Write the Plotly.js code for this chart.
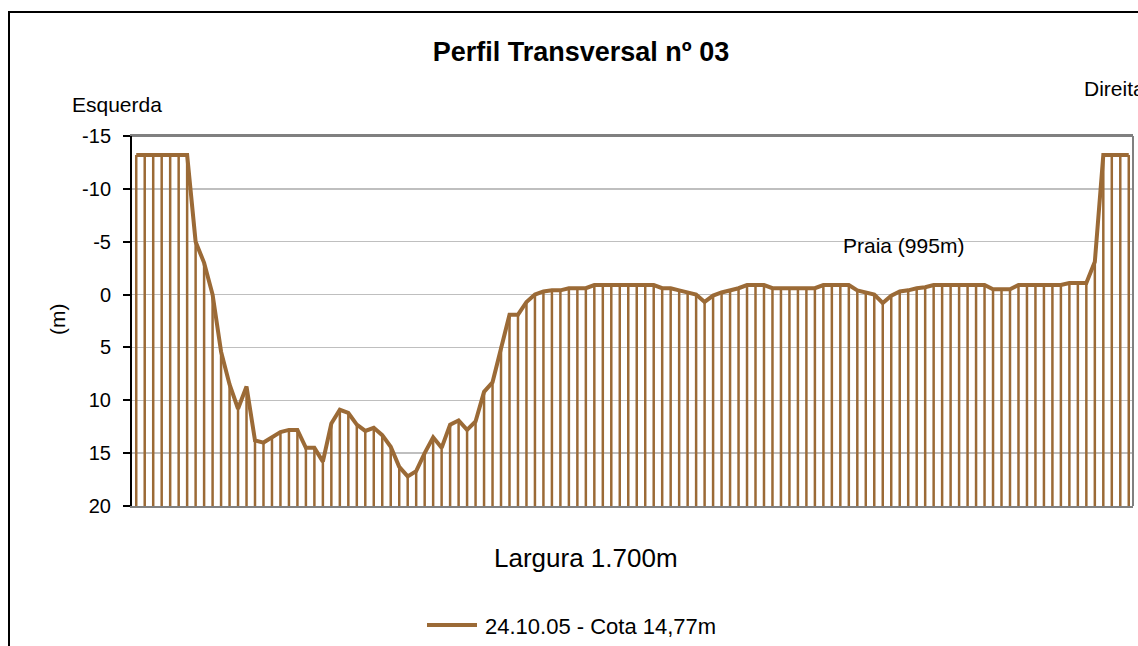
<!DOCTYPE html>
<html>
<head>
<meta charset="utf-8">
<script src="https://cdn.plot.ly/plotly-3.0.1.min.js"></script>
<style>
  html, body { margin: 0; padding: 0; background: #ffffff; }
  #chart { width: 1138px; height: 646px; }
</style>
</head>
<body>
<div id="chart"></div>
<script>
// Depth profile values (m) (negative = above reference level)
const depth = [
  -13.2, -13.2, -13.2, -13.2, -13.2, -13.2, -13.2, -5.0, -3.0, 0.0,
  5.4, 8.5, 10.8, 8.7, 13.8, 14.0, 13.5, 13.0, 12.8, 12.8,
  14.5, 14.5, 15.8, 12.2, 10.9, 11.2, 12.3, 12.9, 12.6, 13.3,
  14.4, 16.3, 17.2, 16.7, 15.0, 13.5, 14.5, 12.3, 11.9, 12.8,
  12.0, 9.2, 8.3, 4.9, 1.9, 1.9, 0.7, 0.0, -0.3, -0.4,
  -0.4, -0.6, -0.6, -0.6, -0.9, -0.9, -0.9, -0.9, -0.9, -0.9,
  -0.9, -0.9, -0.6, -0.6, -0.4, -0.2, 0.0, 0.7, 0.1, -0.2,
  -0.4, -0.6, -0.9, -0.9, -0.9, -0.6, -0.6, -0.6, -0.6, -0.6,
  -0.6, -0.9, -0.9, -0.9, -0.9, -0.4, -0.2, 0.0, 0.8, 0.1,
  -0.3, -0.4, -0.6, -0.7, -0.9, -0.9, -0.9, -0.9, -0.9, -0.9,
  -0.9, -0.5, -0.5, -0.5, -0.9, -0.9, -0.9, -0.9, -0.9, -0.9,
  -1.1, -1.1, -1.1, -3.1, -13.2, -13.2, -13.2, -13.2
];
const stations = depth.map((_, i) => i);
const axisBottom = 20;
const yTickValues = [-15, -10, -5, 0, 5, 10, 15, 20];
const yTickLabels = ['-15', '-10', '-5', '0', '5', '10', '15', '20'];
const seriesName = '24.10.05 - Cota 14,77m';
const chartTitle = 'Perfil Transversal nº 03';
const xTitle = 'Largura 1.700m';
const yTitle = '(m)';
const labelLeft = 'Esquerda';
const labelRight = 'Direita';
const labelBeach = 'Praia (995m)';

const brown = '#9B6A36';
const FONT = 'Liberation Sans, Arial, sans-serif';

const trace = {
  type: 'scatter',
  mode: 'lines',
  x: stations,
  y: depth,
  name: seriesName,
  line: { color: brown, width: 4 },
  error_y: {
    type: 'data',
    symmetric: false,
    array: depth.map(v => axisBottom - v),
    arrayminus: depth.map(() => 0),
    width: 0,
    thickness: 2.5,
    color: brown
  },
  hoverinfo: 'x+y',
  showlegend: false
};

const layout = {
  width: 1138,
  height: 646,
  margin: { l: 132, r: 5, t: 136, b: 140 },
  paper_bgcolor: '#ffffff',
  plot_bgcolor: '#ffffff',
  font: { family: FONT, color: '#000000', size: 20 },
  title: {
    text: '<b>' + chartTitle + '</b>',
    font: { family: FONT, size: 27, color: '#000000' },
    xref: 'container', x: 581 / 1138, xanchor: 'center',
    yref: 'container', y: 1 - 52 / 646, yanchor: 'middle'
  },
  xaxis: {
    range: [-0.5, depth.length - 0.5],
    showticklabels: false,
    ticks: '',
    showgrid: false,
    zeroline: false,
    showline: true,
    linecolor: '#808080',
    linewidth: 2,
    mirror: true,
    fixedrange: true
  },
  yaxis: {
    range: [20, -15],
    tickvals: yTickValues,
    ticktext: yTickLabels,
    ticks: 'outside',
    ticklen: 7,
    tickwidth: 2,
    tickcolor: '#000000',
    ticklabelstandoff: 8,
    tickfont: { family: FONT, size: 20, color: '#000000' },
    showgrid: true,
    gridcolor: '#BFBFBF',
    gridwidth: 1.5,
    zeroline: false,
    showline: true,
    linecolor: '#000000',
    linewidth: 2,
    fixedrange: true
  },
  shapes: [
    { type: 'line', xref: 'paper', yref: 'paper', x0: 0, x1: 1, y0: 1, y1: 1,
      line: { color: '#808080', width: 2 } },
    { type: 'line', xref: 'paper', yref: 'paper', x0: 1, x1: 1, y0: 0, y1: 1,
      line: { color: '#808080', width: 2 } },
    { type: 'line', xref: 'paper', yref: 'paper',
      x0: (427 - 132) / 1001, x1: (477 - 132) / 1001,
      y0: (506 - 625) / 370, y1: (506 - 625) / 370,
      line: { color: brown, width: 4 } },
    { type: 'rect', xref: 'paper', yref: 'paper',
      x0: (9 - 132) / 1001, x1: (1150 - 132) / 1001,
      y0: (506 - 660) / 370, y1: (506 - 12) / 370,
      line: { color: '#000000', width: 2 }, fillcolor: 'rgba(0,0,0,0)' }
  ],
  annotations: [
    { text: labelLeft, xref: 'paper', yref: 'paper',
      x: (70 - 132) / 1001, xanchor: 'left', y: (506 - 104) / 370, yanchor: 'middle',
      showarrow: false, font: { family: FONT, size: 21 } },
    { text: labelRight, xref: 'paper', yref: 'paper',
      x: (1082 - 132) / 1001, xanchor: 'left', y: (506 - 88) / 370, yanchor: 'middle',
      showarrow: false, font: { family: FONT, size: 21 } },
    { text: labelBeach, xref: 'paper', yref: 'paper',
      x: (841 - 132) / 1001, xanchor: 'left', y: (506 - 245) / 370, yanchor: 'middle',
      showarrow: false, font: { family: FONT, size: 21 } },
    { text: xTitle, xref: 'paper', yref: 'paper',
      x: (586 - 132) / 1001, xanchor: 'center', y: (506 - 558) / 370, yanchor: 'middle',
      showarrow: false, font: { family: FONT, size: 26 } },
    { text: yTitle, xref: 'paper', yref: 'paper', textangle: -90,
      x: (57 - 132) / 1001, xanchor: 'center', y: (506 - 320) / 370, yanchor: 'middle',
      showarrow: false, font: { family: FONT, size: 21 } },
    { text: seriesName, xref: 'paper', yref: 'paper',
      x: (483 - 132) / 1001, xanchor: 'left', y: (506 - 626) / 370, yanchor: 'middle',
      showarrow: false, font: { family: FONT, size: 22 } }
  ]
};

Plotly.newPlot('chart', [trace], layout, { displayModeBar: false, staticPlot: true });
</script>
</body>
</html>
